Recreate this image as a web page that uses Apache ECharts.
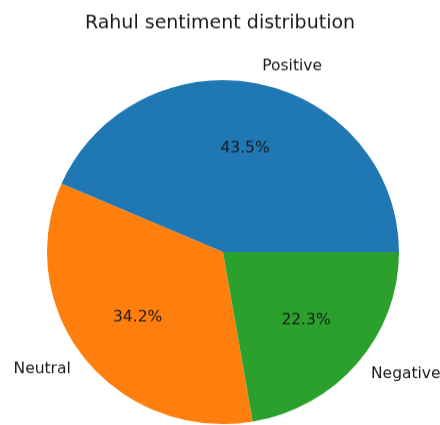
<!DOCTYPE html>
<html>
<head>
<meta charset="utf-8">
<script src="https://cdn.jsdelivr.net/npm/echarts@6/dist/echarts.min.js"></script>
<style>
  html, body { margin: 0; padding: 0; background: #ffffff; overflow: hidden; }
  /* the figure is slightly squashed vertically */
  #chart { width: 440px; height: 435px; transform-origin: 0 0; transform: scale(1, 0.977); }
</style>
</head>
<body>
<div id="chart"></div>
<script>
// Sentiment shares (percent)
const categories = ['Positive', 'Neutral', 'Negative'];
const shares = [43.5, 34.2, 22.3];
const colors = ['#1f77b4', '#ff7f0e', '#2ca02c'];

const cx = 223, cy = 258, R = 176;
const font = 'DejaVu Sans, sans-serif';
const textColor = '#1a1a1a';

const chart = echarts.init(document.getElementById('chart'), null, { renderer: 'canvas' });
chart.setOption({
  animation: false,
  backgroundColor: '#ffffff',
  title: {
    text: 'Rahul sentiment distribution',
    left: 'center',
    top: 10,
    textStyle: { fontFamily: font, fontSize: 19, fontWeight: 'normal', color: textColor }
  },
  series: [
    {
      // Slices with category names just outside the rim
      type: 'pie',
      center: [cx, cy],
      radius: [0, R],
      startAngle: 0,
      clockwise: false,
      avoidLabelOverlap: false,
      silent: true,
      data: categories.map((name, i) => ({
        name: name,
        value: shares[i],
        itemStyle: { color: colors[i] }
      })),
      label: {
        show: true,
        position: 'outside',
        formatter: '{b}',
        fontFamily: font,
        fontSize: 15.5,
        color: textColor,
        distanceToLabelLine: 0
      },
      labelLine: { show: false, length: R * 0.1, length2: 0 },
      itemStyle: { borderWidth: 0 }
    },
    {
      // Transparent overlay carrying the percentage labels at 0.6 of the radius
      type: 'pie',
      center: [cx, cy],
      radius: [0, R * 1.2],
      startAngle: 0,
      clockwise: false,
      avoidLabelOverlap: false,
      silent: true,
      data: categories.map((name, i) => ({
        name: name,
        value: shares[i],
        itemStyle: { color: 'rgba(0,0,0,0)' }
      })),
      label: {
        show: true,
        position: 'inner',
        formatter: p => p.value.toFixed(1) + '%',
        fontFamily: font,
        fontSize: 15.5,
        color: textColor
      },
      labelLine: { show: false }
    }
  ]
});
</script>
</body>
</html>
